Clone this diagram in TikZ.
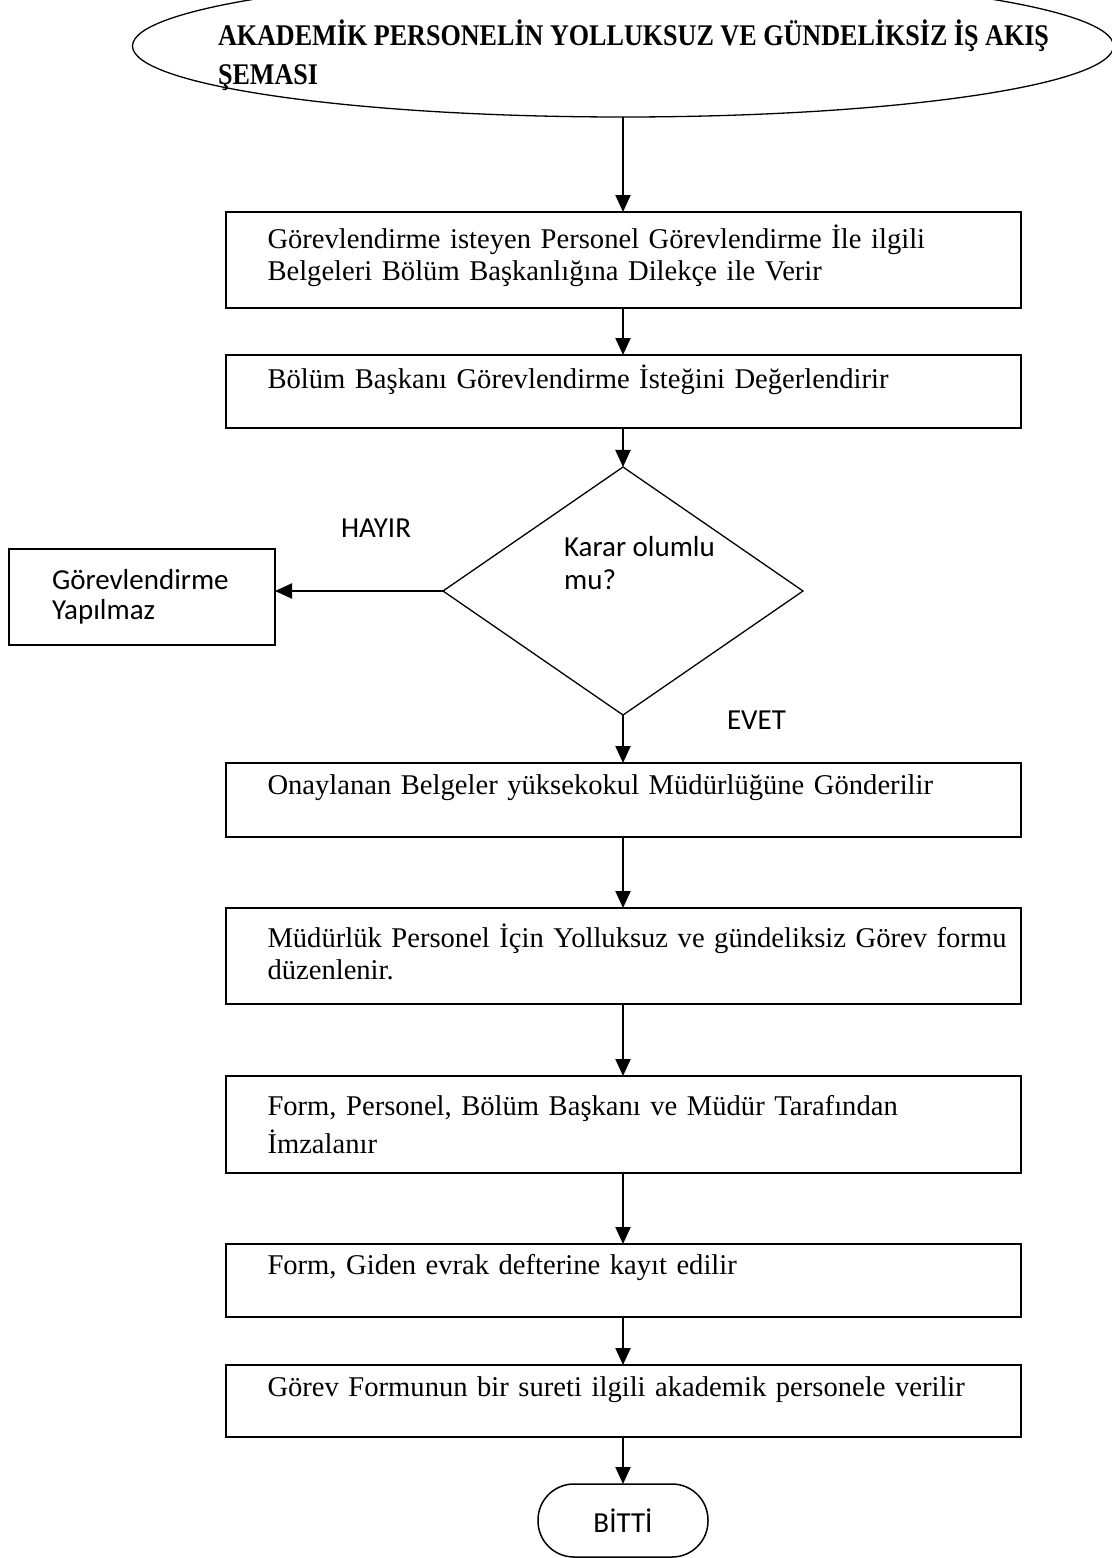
\documentclass[tikz,border=0pt]{standalone}
\usepackage{fontspec}
\setmainfont{Liberation Serif}
\newfontfamily\calibri{Carlito}
\newfontfamily\baslikfont[FakeStretch=0.87]{Liberation Serif}
\usetikzlibrary{positioning,shapes.geometric,arrows.meta}
\hfuzz=100pt

\begin{document}
\begin{tikzpicture}[node distance=20pt, every node/.style={outer sep=0pt}]
  \tikzset{
    kutu/.style={draw, rectangle, line width=1pt, minimum width=397.5pt, text width=355.5pt, inner xsep=21pt, align=left, font=\fontsize{14.3}{16}\selectfont},
    karar/.style={draw, diamond, line width=0.65pt, minimum width=180pt, minimum height=124pt, inner sep=0pt},
    baslik/.style={draw, ellipse, line width=0.65pt, minimum width=490.5pt, minimum height=71pt},
    yazi/.style={inner sep=0pt, align=left, font=\calibri\fontsize{14.5}{15}\selectfont},
    bitis/.style={draw, rectangle, rounded corners=18pt, line width=0.75pt, minimum width=85pt, minimum height=36.5pt, font=\calibri\fontsize{14.5}{16}\selectfont},
    ok/.style={line width=1pt, -{Triangle[length=8.5pt,width=7.5pt]}}
  }

  \clip (0pt,0pt) rectangle (556pt,-779pt);

  \node[baslik] (baslik) at (311.5pt,-23pt) {};
  \node[inner sep=0pt, align=left, font=\baslikfont\bfseries\fontsize{15}{19.5}\selectfont, right=42.75pt of baslik.west, yshift=-4.75pt] (baslikyazi) {AKADEMİK PERSONELİN YOLLUKSUZ VE GÜNDELİKSİZ İŞ AKIŞ\\ŞEMASI};

  \node[kutu, minimum height=48pt, text depth=23.7pt, below=47.5pt of baslik] (kutu1) {Görevlendirme isteyen Personel Görevlendirme İle ilgili\\Belgeleri Bölüm Başkanlığına Dilekçe ile Verir};
  \node[kutu, minimum height=36.5pt, text depth=14.7pt, below=23.5pt of kutu1] (kutu2) {Bölüm Başkanı Görevlendirme İsteğini Değerlendirir};
  \node[karar, below=19.5pt of kutu2] (karar) {};
  \node[yazi, font=\calibri\fontsize{14.5}{16.5}\selectfont] (soru) at ([xshift=8.25pt,yshift=13.75pt]karar.center) {Karar olumlu\\mu?};
  \node[kutu, minimum height=48pt, minimum width=133pt, text width=90pt, inner xsep=21.5pt, font=\calibri\fontsize{14.5}{15}\selectfont, left=84pt of karar, yshift=-3pt] (yapilmaz) {Görevlendirme\\Yapılmaz};
  \node[yazi, above left=26.85pt and 16pt of karar.west] (hayir) {HAYIR};
  \node[yazi, right=52pt of karar.south, yshift=-2.5pt] (evet) {EVET};
  \node[kutu, minimum height=37pt, text depth=15.2pt, below=24pt of karar] (kutu3) {Onaylanan Belgeler yüksekokul Müdürlüğüne Gönderilir};
  \node[kutu, minimum height=48pt, text depth=20.5pt, below=35.5pt of kutu3] (kutu4) {\mbox{Müdürlük Personel İçin Yolluksuz ve gündeliksiz Görev formu}\\düzenlenir.};
  \node[kutu, minimum height=48.5pt, below=36pt of kutu4] (kutu5) {Form, Personel, Bölüm Başkanı ve Müdür Tarafından\\[3pt]İmzalanır};
  \node[kutu, minimum height=36.5pt, text depth=15.7pt, below=35.5pt of kutu5] (kutu6) {Form, Giden evrak defterine kayıt edilir};
  \node[kutu, minimum height=36pt, text depth=14.2pt, below=24pt of kutu6] (kutu7) {Görev Formunun bir sureti ilgili akademik personele verilir};
  \node[bitis, below=23.5pt of kutu7] (bitti) {BİTTİ};

  \draw[ok] (baslik.south) -- (kutu1.north);
  \draw[ok] (kutu1) -- (kutu2);
  \draw[ok] (kutu2) -- (karar);
  \draw[ok] (karar.west) -- (karar.west -| yapilmaz.east);
  \draw[ok] (karar) -- (kutu3);
  \draw[ok] (kutu3) -- (kutu4);
  \draw[ok] (kutu4) -- (kutu5);
  \draw[ok] (kutu5) -- (kutu6);
  \draw[ok] (kutu6) -- (kutu7);
  \draw[ok] (kutu7) -- (bitti);
\end{tikzpicture}
\end{document}
